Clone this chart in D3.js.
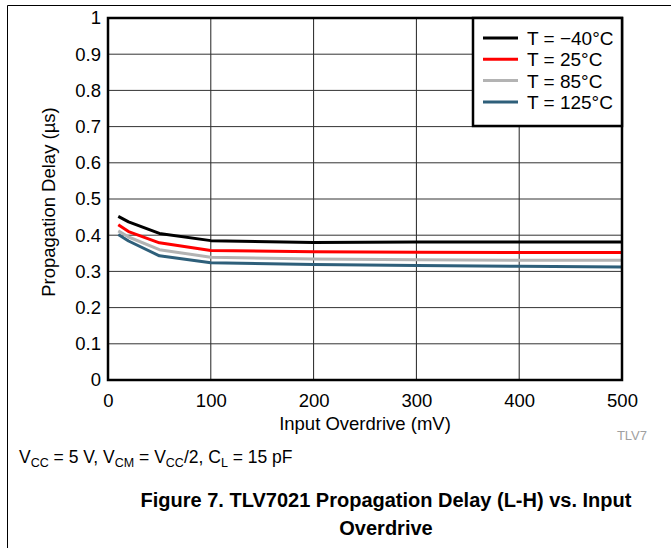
<!DOCTYPE html>
<html>
<head>
<meta charset="utf-8">
<script src="https://cdn.jsdelivr.net/npm/d3@7"></script>
<style>
body { margin: 0; background: #fff; }
svg { font-family: "Liberation Sans", Arial, sans-serif; }
</style>
</head>
<body>
<div id="picture"></div>
<script>
var overdrive = [10, 20, 50, 100, 200, 300, 400, 500];
var tMinus40 = [0.452, 0.437, 0.405, 0.385, 0.380, 0.381, 0.381, 0.381];
var t25 = [0.429, 0.410, 0.379, 0.358, 0.354, 0.353, 0.352, 0.352];
var t85 = [0.412, 0.395, 0.360, 0.339, 0.334, 0.332, 0.331, 0.331];
var t125 = [0.402, 0.384, 0.343, 0.324, 0.319, 0.316, 0.314, 0.312];
var seriesNames = ["T = \u221240\u00B0C", "T = 25\u00B0C", "T = 85\u00B0C", "T = 125\u00B0C"];
var seriesColors = ["#000000", "#ff0000", "#b3b3b3", "#2e5f7a"];
var xTicks = [0, 100, 200, 300, 400, 500];
var yTicks = [0, 0.1, 0.2, 0.3, 0.4, 0.5, 0.6, 0.7, 0.8, 0.9, 1];

function draw() {
    "use strict";

    var width = 671, height = 548;
    var left = 108, right = 622, top = 18, bottom = 380;

    var svg = d3.select("#picture")
        .append("svg")
        .attr("width", width)
        .attr("height", height);

    // outer frame
    svg.append("path")
        .attr("d", "M7.5," + height + "V5.5H" + width)
        .attr("fill", "none")
        .attr("stroke", "#000")
        .attr("stroke-width", 1);

    var x_scale = d3.scaleLinear().domain([0, 500]).range([left, right]);
    var y_scale = d3.scaleLinear().domain([0, 1]).range([bottom, top]);

    // grid
    svg.append("g").selectAll("line")
        .data(xTicks.slice(1, -1))
        .enter().append("line")
        .attr("x1", function (d) { return x_scale(d); })
        .attr("x2", function (d) { return x_scale(d); })
        .attr("y1", top).attr("y2", bottom)
        .attr("stroke", "#222").attr("stroke-width", 1);
    svg.append("g").selectAll("line")
        .data(yTicks.slice(1, -1))
        .enter().append("line")
        .attr("y1", function (d) { return y_scale(d); })
        .attr("y2", function (d) { return y_scale(d); })
        .attr("x1", left).attr("x2", right)
        .attr("stroke", "#333").attr("stroke-width", 1);

    // axes (labels only)
    var x_axis = d3.axisBottom(x_scale).tickValues(xTicks).tickSize(0).tickPadding(14)
        .tickFormat(d3.format("d"));
    svg.append("g")
        .attr("class", "x_axis")
        .attr("transform", "translate(0," + bottom + ")")
        .call(x_axis);
    var y_axis = d3.axisLeft(y_scale).tickValues(yTicks).tickSize(0).tickPadding(7)
        .tickFormat(function (d) { return d === 0 || d === 1 ? d : d3.format(".1f")(d); });
    svg.append("g")
        .attr("class", "y_axis")
        .attr("transform", "translate(" + left + ",0)")
        .call(y_axis);
    svg.selectAll(".x_axis .domain, .y_axis .domain").remove();
    svg.selectAll(".x_axis text, .y_axis text")
        .attr("font-size", 18.5).attr("font-family", "Liberation Sans, Arial, sans-serif")
        .attr("fill", "#000");

    // series lines
    var series = [tMinus40, t25, t85, t125];
    var line = d3.line()
        .x(function (d, i) { return x_scale(overdrive[i]); })
        .y(function (d) { return y_scale(d); });
    svg.append("g").selectAll("path")
        .data(series.slice().reverse())
        .enter().append("path")
        .attr("d", line)
        .attr("fill", "none")
        .attr("stroke", function (d, i) { return seriesColors[3 - i]; })
        .attr("stroke-width", 3)
        .attr("stroke-linejoin", "round");

    // plot frame
    svg.append("rect")
        .attr("x", left).attr("y", top)
        .attr("width", right - left).attr("height", bottom - top)
        .attr("fill", "none").attr("stroke", "#000").attr("stroke-width", 2.5);

    // legend
    var legend = svg.append("g").attr("transform", "translate(473," + top + ")");
    legend.append("rect")
        .attr("width", right - 473).attr("height", 108)
        .attr("fill", "#fff").attr("stroke", "#000").attr("stroke-width", 2.5);
    var items = legend.selectAll("g.item")
        .data(seriesNames)
        .enter().append("g")
        .attr("class", "item")
        .attr("transform", function (d, i) { return "translate(0," + (20 + i * 21.3) + ")"; });
    items.append("line")
        .attr("x1", 10).attr("x2", 45)
        .attr("stroke", function (d, i) { return seriesColors[i]; })
        .attr("stroke-width", 3);
    items.append("text")
        .attr("x", 54).attr("y", 7)
        .attr("font-size", 19)
        .text(function (d) { return d; });

    // axis titles
    svg.append("text")
        .attr("x", 365).attr("y", 430)
        .attr("text-anchor", "middle").attr("font-size", 18.5)
        .text("Input Overdrive (mV)");
    svg.append("text")
        .attr("transform", "translate(55," + ((top + bottom) / 2 + 3) + ") rotate(-90)")
        .attr("text-anchor", "middle").attr("font-size", 18.5)
        .text("Propagation Delay (\u00B5s)");

    svg.append("text")
        .attr("x", 647).attr("y", 440)
        .attr("text-anchor", "end").attr("font-size", 13).attr("fill", "#a0a0a0")
        .text("TLV7");

    // conditions
    var cond = svg.append("text").attr("x", 19).attr("y", 463).attr("font-size", 17.5);
    var parts = [["V", ""], ["CC", "sub"], [" = 5 V, V", ""], ["CM", "sub"], [" = V", ""],
        ["CC", "sub"], ["/2, C", ""], ["L", "sub"], [" = 15 pF", ""]];
    parts.forEach(function (p) {
        var t = cond.append("tspan").text(p[0]);
        if (p[1] === "sub") {
            t.attr("font-size", 12.5).attr("dy", 4);
        } else {
            t.attr("dy", cond.selectAll("tspan").size() > 1 ? -4 : 0);
        }
    });

    // caption
    svg.append("text")
        .attr("x", 386).attr("y", 507)
        .attr("text-anchor", "middle").attr("font-size", 20).attr("font-weight", "bold")
        .text("Figure 7. TLV7021 Propagation Delay (L-H) vs. Input");
    svg.append("text")
        .attr("x", 386).attr("y", 535)
        .attr("text-anchor", "middle").attr("font-size", 20).attr("font-weight", "bold")
        .text("Overdrive");
}

draw();
</script>
</body>
</html>
